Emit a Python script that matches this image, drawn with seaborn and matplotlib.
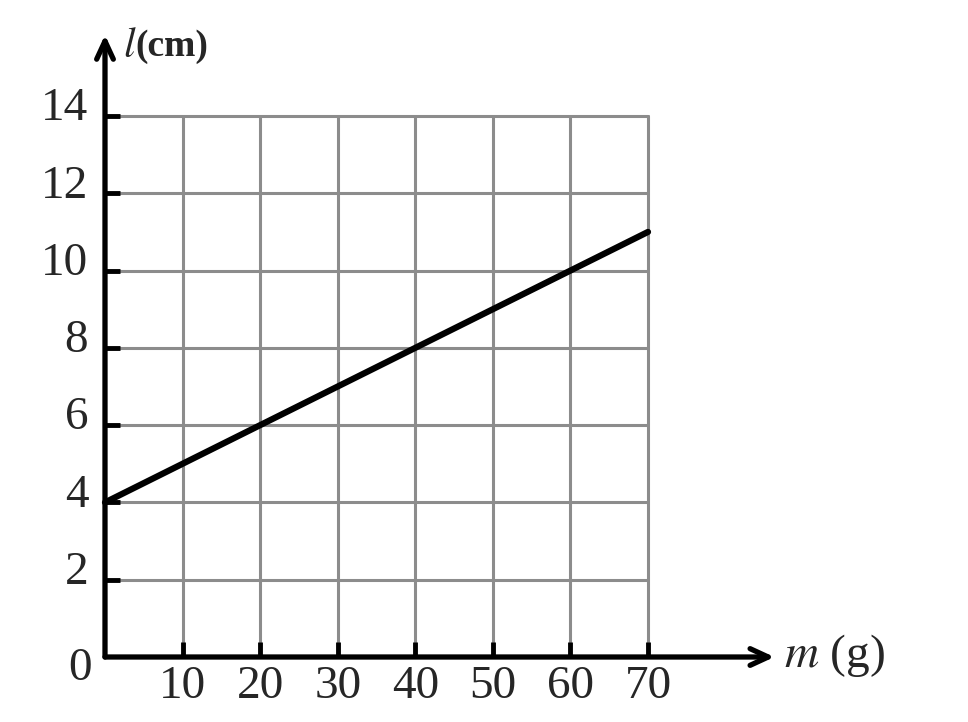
import matplotlib
matplotlib.use("Agg")
import matplotlib.pyplot as plt
import matplotlib.transforms as mtransforms
import pandas as pd
import seaborn as sns

# ==========================
# Data
# ==========================
mass_g = [0, 10, 20, 30, 40, 50, 60, 70]
length_cm = [4, 5, 6, 7, 8, 9, 10, 11]
x_ticks = [10, 20, 30, 40, 50, 60, 70]
y_ticks = [2, 4, 6, 8, 10, 12, 14]

df = pd.DataFrame({'m': mass_g, 'l': length_cm})

sns.set_style('white')
plt.rcParams['font.family'] = ['Liberation Serif', 'DejaVu Serif']
plt.rcParams['mathtext.fontset'] = 'stix'

fig = plt.figure(figsize=(9.68, 7.22), dpi=100)
ax = fig.add_axes([105 / 968, 65 / 722, 543 / 968, 541 / 722])

sns.lineplot(data=df, x='m', y='l', color='black', linewidth=4.5, ax=ax,
             zorder=5, clip_on=False)

ax.set_xlim(0, 70)
ax.set_ylim(0, 14)
ax.set_xticks(x_ticks)
ax.set_yticks(y_ticks)
ax.grid(True, color='#8c8c8c', linewidth=2.2)
for gl in ax.get_xgridlines() + ax.get_ygridlines():
    gl.set_clip_on(False)
ax.set_axisbelow(True)

for side in ['top', 'right', 'left', 'bottom']:
    ax.spines[side].set_visible(False)

# seaborn's white style switches the ticks off, turn them back on
ax.tick_params(axis='both', direction='in', length=11, width=3.5,
               color='black', labelsize=34, bottom=True, left=True)
ax.tick_params(axis='x', pad=6)
ax.tick_params(axis='y', pad=12)
for t in ax.xaxis.get_major_ticks() + ax.yaxis.get_major_ticks():
    t.tick1line.set_zorder(6)
ax.set_xlabel('')
ax.set_ylabel('')

# y labels sit a bit above their ticks in the original
offset = mtransforms.ScaledTranslation(0, 12 / 100, fig.dpi_scale_trans)
for lab in ax.get_yticklabels():
    lab.set_transform(lab.get_transform() + offset)

# axes with arrow heads
arrow = dict(arrowstyle='->, head_length=1.3, head_width=0.6', lw=3.8,
             color='black', shrinkA=0, shrinkB=0)
ax.annotate('', xy=(86.3, 0), xytext=(0, 0), arrowprops=arrow,
            annotation_clip=False)
ax.annotate('', xy=(0, 16.1), xytext=(0, 0), arrowprops=arrow,
            annotation_clip=False)

ax.text(-3.2, -0.3, '0', fontsize=34, ha='center', va='center', clip_on=False)
ax.text(87.5, 0.05, r'$m$ (g)', fontsize=34, ha='left', va='center', clip_on=False)
ax.text(2.3, 15.8, r'$l$', fontsize=30, ha='left', va='center', clip_on=False)
ax.text(3.9, 15.8, '(cm)', fontsize=27, fontweight='bold', ha='left',
        va='center', clip_on=False)

fig.savefig('out.png', dpi=100)
